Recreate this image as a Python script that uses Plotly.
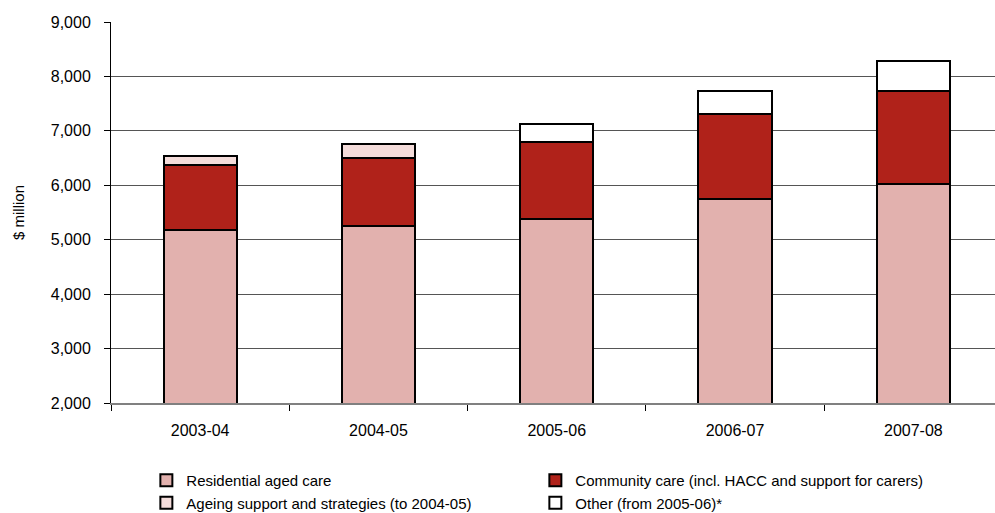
import plotly.graph_objects as go

categories = ["2003-04", "2004-05", "2005-06", "2006-07", "2007-08"]
residential = [5178, 5252, 5380, 5742, 6018]
community = [1195, 1244, 1410, 1562, 1714]
ageing = [171, 257, None, None, None]
other = [None, None, 336, 422, 551]

series = [
    ("Residential aged care", residential, "#E2B1AE"),
    ("Community care (incl. HACC and support for carers)", community, "#B0221A"),
    ("Ageing support and strategies (to 2004-05)", ageing, "#F4DCDA"),
    ("Other (from 2005-06)*", other, "#FFFFFF"),
]

fig = go.Figure()
for name, vals, col in series:
    fig.add_trace(go.Bar(
        x=categories, y=vals, name=name,
        marker=dict(color=col, line=dict(color="#000000", width=2)),
        width=0.41,
    ))

fig.update_layout(
    barmode="stack",
    width=995, height=513,
    margin=dict(l=111, r=0, t=22, b=110, autoexpand=False),
    paper_bgcolor="white", plot_bgcolor="white",
    font=dict(family="Liberation Sans, Arial", size=14, color="#000000"),
    showlegend=True,
    legend=dict(
        orientation="h", x=0.04, y=-0.16, xanchor="left", yanchor="top",
        entrywidth=344, entrywidthmode="pixels", traceorder="normal",
        font=dict(size=15), tracegroupgap=0,
    ),
)
fig.update_xaxes(
    type="category",
    range=[-0.5, 4.458], showline=True, linecolor="#808080", linewidth=2,
    ticks="outside", tickson="boundaries", ticklen=6, tickcolor="#000000",
    ticklabelstandoff=12,
    tickfont=dict(size=16),
    showgrid=False,
)
fig.update_yaxes(
    range=[2000, 9000], dtick=1000, tickformat=",d",
    showline=True, linecolor="#000000", linewidth=1,
    ticks="outside", ticklen=6, tickcolor="#000000",
    ticklabelstandoff=10,
    showgrid=True, gridcolor="#555555", gridwidth=1,
    title=dict(text="$ million", font=dict(size=15), standoff=22),
    tickfont=dict(size=16),
)
fig.write_html("out.html")
